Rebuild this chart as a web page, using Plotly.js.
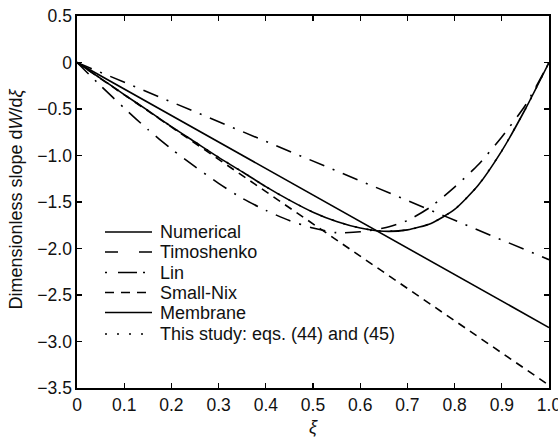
<!DOCTYPE html>
<html>
<head>
<meta charset="utf-8">
<script src="https://cdn.plot.ly/plotly-3.0.1.min.js"></script>
<style>html,body{margin:0;padding:0;background:#fff;}#chart{width:558px;height:441px;}</style>
</head>
<body>
<div id="chart"></div>
<script>
// ---- data ----
const xi = [0, 0.05, 0.1, 0.15, 0.2, 0.25, 0.3, 0.35, 0.4, 0.45, 0.5, 0.55, 0.6, 0.65, 0.7, 0.75, 0.8, 0.85, 0.9, 0.95, 1.0];
const numerical = [0, -0.17, -0.345, -0.515, -0.69, -0.855, -1.02, -1.175, -1.335, -1.48, -1.61, -1.71, -1.78, -1.815, -1.80, -1.73, -1.58, -1.32, -0.95, -0.50, 0];
const thisStudy = [0, -0.17, -0.345, -0.515, -0.69, -0.855, -1.02, -1.175, -1.335, -1.48, -1.61, -1.71, -1.78, -1.815, -1.80, -1.73, -1.58, -1.32, -0.95, -0.50, 0];
const linCurve = [0, -0.25, -0.49, -0.72, -0.93, -1.12, -1.30, -1.46, -1.59, -1.70, -1.78, -1.83, -1.82, -1.78, -1.70, -1.55, -1.34, -1.10, -0.80, -0.46, 0];
const xLine = [0, 1];
const timoshenko = [0, -2.12];
const smallNix = [0, -3.47];
const membrane = [0, -2.85];
const xTicks = [0, 0.1, 0.2, 0.3, 0.4, 0.5, 0.6, 0.7, 0.8, 0.9, 1.0];
const xTickText = ['0', '0.1', '0.2', '0.3', '0.4', '0.5', '0.6', '0.7', '0.8', '0.9', '1.0'];
const yTicks = [0.5, 0, -0.5, -1.0, -1.5, -2.0, -2.5, -3.0, -3.5];
const yTickText = ['0.5', '0', '\u22120.5', '\u22121.0', '\u22121.5', '\u22122.0', '\u22122.5', '\u22123.0', '\u22123.5'];
const names = ['Numerical', 'Timoshenko', 'Lin', 'Small-Nix', 'Membrane', 'This study: eqs. (44) and (45)'];
const xTitle = '<i>ξ</i>';
const yTitle = 'Dimensionless slope d<i>W</i>/d<i>ξ</i>';

const W = 1.6;
const K = '#000';
const DASH = {
  longdash: '13px,21px',
  dashdot: '16px,9px,2px,9px',
  dash: '8px,6px',
  dot: '2px,10px'
};
const legendDash = ['solid', DASH.longdash, '2px,11px,19px,6px,2px,20px', '9px,7px', 'solid', DASH.dot];

const traces = [
  {x: xi, y: numerical, name: names[0], mode: 'lines', line: {color: K, width: W, shape: 'spline', smoothing: 0.6}},
  {x: xLine, y: timoshenko, name: names[1], mode: 'lines', line: {color: K, width: W, dash: DASH.dashdot}},
  {x: xi, y: linCurve, name: names[2], mode: 'lines', line: {color: K, width: W, dash: DASH.dashdot, shape: 'spline', smoothing: 0.6}},
  {x: xLine, y: smallNix, name: names[3], mode: 'lines', line: {color: K, width: W, dash: DASH.dash}},
  {x: xLine, y: membrane, name: names[4], mode: 'lines', line: {color: K, width: W}},
  {x: xi, y: thisStudy, name: names[5], mode: 'lines', line: {color: K, width: W, dash: DASH.dot, shape: 'spline', smoothing: 0.6}}
];

const FAM = '"Liberation Sans", Arial, Helvetica, sans-serif';
const font = {family: FAM, size: 17.5, color: '#111'};
const legFont = {family: FAM, size: 18, color: '#111'};

// plot-area fractions from pixel positions (plot area spans x 77..549, y 16..388)
const toPX = (px) => (px - 77) / 472;
const toPY = (py) => (388 - py) / 372;
const rowY = [232, 252, 272.5, 292.5, 312.5, 334];
const shapes = [];
const annotations = [];
names.forEach((n, i) => {
  shapes.push({type: 'line', xref: 'paper', yref: 'paper', x0: toPX(105), x1: toPX(152), y0: toPY(rowY[i]), y1: toPY(rowY[i]),
    line: {color: K, width: W, dash: legendDash[i]}});
  annotations.push({xref: 'paper', yref: 'paper', x: toPX(158), y: toPY(rowY[i]), xanchor: 'left', yanchor: 'middle',
    text: n, showarrow: false, font: legFont});
});
annotations.push({xref: 'paper', yref: 'paper', x: 0.5, y: toPY(427), xanchor: 'center', yanchor: 'middle',
  text: xTitle, showarrow: false, font: {family: FAM, size: 18, color: '#111'}});
annotations.push({xref: 'paper', yref: 'paper', x: toPX(15.5), y: toPY(199), xanchor: 'center', yanchor: 'middle',
  text: yTitle, textangle: -90, showarrow: false, font: {family: FAM, size: 18, color: '#111'}});

const layout = {
  width: 558, height: 441,
  margin: {l: 77, r: 9, t: 16, b: 53, pad: 0},
  paper_bgcolor: '#fff', plot_bgcolor: '#fff',
  font: font,
  showlegend: false,
  shapes: shapes,
  annotations: annotations,
  xaxis: {
    range: [0, 1], tickvals: xTicks, ticktext: xTickText,
    ticks: 'inside', ticklen: 5, tickwidth: 1.2, tickcolor: K,
    showline: true, linecolor: K, linewidth: 1.6, mirror: 'ticks',
    showgrid: false, zeroline: false, ticklabeloverflow: 'allow'
  },
  yaxis: {
    range: [-3.5, 0.5], tickvals: yTicks, ticktext: yTickText,
    ticks: 'inside', ticklen: 5, tickwidth: 1.2, tickcolor: K,
    showline: true, linecolor: K, linewidth: 1.6, mirror: 'ticks',
    showgrid: false, zeroline: false
  }
};
Plotly.newPlot('chart', traces, layout, {displayModeBar: false, staticPlot: true});
</script>
</body>
</html>
